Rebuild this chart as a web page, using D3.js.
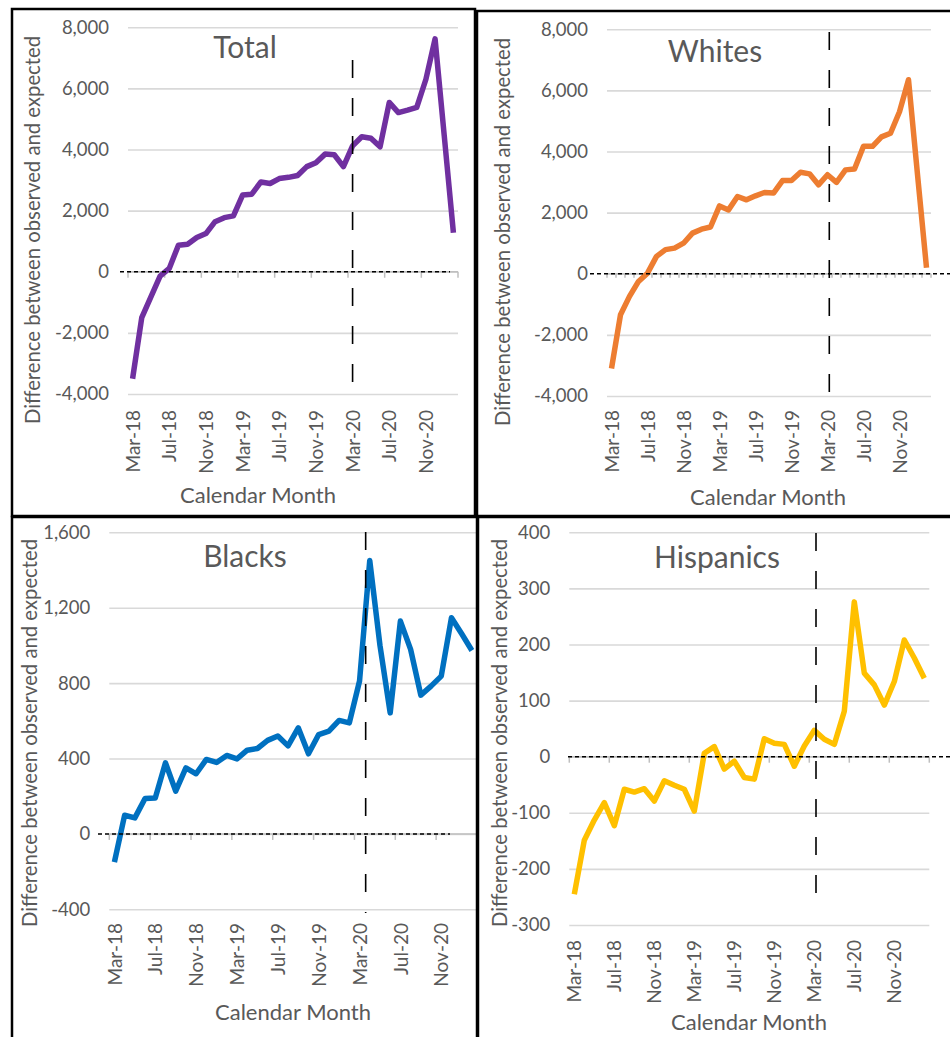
<!DOCTYPE html>
<html><head><meta charset="utf-8">
<script src="https://cdn.jsdelivr.net/npm/d3@7"></script>
<style>
body{margin:0;background:#fff}
text{font-family:Lato,"Open Sans",sans-serif}
</style>
</head><body>
<svg id="chart" width="950" height="1037"></svg>
<script>
// ---------- data ----------
const months = ["Mar-18","Apr-18","May-18","Jun-18","Jul-18","Aug-18","Sep-18","Oct-18","Nov-18","Dec-18","Jan-19","Feb-19",
  "Mar-19","Apr-19","May-19","Jun-19","Jul-19","Aug-19","Sep-19","Oct-19","Nov-19","Dec-19","Jan-20","Feb-20",
  "Mar-20","Apr-20","May-20","Jun-20","Jul-20","Aug-20","Sep-20","Oct-20","Nov-20","Dec-20","Jan-21","Feb-21"];
const tickLabels = ["Mar-18","Jul-18","Nov-18","Mar-19","Jul-19","Nov-19","Mar-20","Jul-20","Nov-20"];
const markerMonth = "Mar-20";

const total = [-3500,-1500,-820,-140,110,870,900,1120,1250,1640,1770,1830,
  2510,2540,2940,2890,3050,3090,3150,3440,3570,3850,3830,3440,
  4120,4420,4370,4090,5540,5210,5290,5380,6300,7620,4450,1280];
const whites = [-3100,-1340,-740,-250,20,570,790,840,1000,1330,1460,1530,
  2220,2090,2530,2420,2550,2660,2640,3050,3050,3320,3270,2910,
  3240,2990,3400,3430,4170,4170,4480,4600,5300,6350,3250,200];
const blacks = [-150,99,85,188,191,377,227,350,319,395,379,416,
  398,444,453,496,519,467,563,425,527,545,602,589,
  811,1450,1000,642,1129,979,736,784,837,1147,1062,973];
const hispanics = [-245,-149,-113,-82,-123,-58,-63,-57,-79,-43,-51,-58,
  -97,6,18,-22,-8,-37,-40,32,24,22,-17,19,
  47,31,22,81,276,149,128,92,134,208,176,140];

const totalTicks = [-4000,-2000,0,2000,4000,6000,8000];
const whitesTicks = [-4000,-2000,0,2000,4000,6000,8000];
const blacksTicks = [-400,0,400,800,1200,1600];
const hispanicsTicks = [-300,-200,-100,0,100,200,300,400];

const titles = ["Total","Whites","Blacks","Hispanics"];
const xTitle = "Calendar Month";
const yTitle = "Difference between observed and expected";

// ---------- layout ----------
const panels = [
  {title:titles[0], data:total, ticks:totalTicks, color:"#7030a0",
   box:[12,9,475,516], plot:{l:128,r:458,t:27.3,b:394}, zero:[120,450], vl:{y1:60,y2:393,off:0},
   tt:{x:245,y:58}, xl:410, cm:{x:258,y:503}, yt:{x:33,y:230}, minor:false},
  {title:titles[1], data:whites, ticks:whitesTicks, color:"#ed7d31",
   box:[477,11,960,516], plot:{l:607,r:931,t:29.3,b:396}, zero:[590,950], vl:{y1:32,y2:412,off:0.2},
   tt:{x:715,y:62}, xl:410, cm:{x:768,y:505}, yt:{x:503,y:232}, minor:true},
  {title:titles[2], data:blacks, ticks:blacksTicks, color:"#0070c0",
   box:[12,517,477,1050], plot:{l:109.3,r:477,t:532.3,b:909.3}, zero:[98,450], vl:{y1:532,y2:913,off:0.6},
   tt:{x:245,y:567}, xl:923, cm:{x:293,y:1020}, yt:{x:30,y:733}, minor:false},
  {title:titles[3], data:hispanics, ticks:hispanicsTicks, color:"#ffc000",
   box:[478,517,960,1050], plot:{l:569.3,r:929.3,t:532.3,b:925}, zero:[568,950], vl:{y1:533,y2:913,off:0.17},
   tt:{x:717,y:568}, xl:940, cm:{x:749,y:1030}, yt:{x:500,y:733}, minor:false}
];

const fmt = d3.formatLocale({decimal:".", thousands:",", grouping:[3], currency:["$",""], minus:"-"}).format(",");

const svg = d3.select("#chart");
svg.append("rect").attr("width",950).attr("height",1037).attr("fill","#fff");
const defs = svg.append("defs");
const textCol = "#595959";

panels.forEach((p,pi)=>{
  const [bx1,by1,bx2,by2] = p.box;
  defs.append("clipPath").attr("id","clip"+pi)
    .append("rect").attr("x",bx1).attr("y",by1).attr("width",bx2-bx1).attr("height",by2-by1);
  const g = svg.append("g").attr("clip-path",`url(#clip${pi})`);

  const x = d3.scalePoint().domain(months).range([p.plot.l,p.plot.r]).padding(0.5);
  const step = x.step();
  const ext = d3.extent(p.ticks);
  const y = d3.scaleLinear().domain(ext).range([p.plot.b,p.plot.t]);

  // gridlines
  const grid = g.append("g").attr("transform",`translate(${p.plot.l},0)`)
    .call(d3.axisLeft(y).tickValues(p.ticks).tickSize(-(p.plot.r-p.plot.l)).tickFormat(""));
  grid.select(".domain").remove();
  grid.selectAll("line").attr("stroke","#d9d9d9").attr("stroke-width",1.6);

  // y labels
  const ya = g.append("g").attr("transform",`translate(${p.plot.l},0)`)
    .call(d3.axisLeft(y).tickValues(p.ticks).tickSize(0).tickPadding(19).tickFormat(fmt));
  ya.select(".domain").remove();
  ya.selectAll("text").attr("fill",textCol).style("font-size","18.5px").style("font-family","Lato");

  // horizontal category axis at zero
  const y0 = y(0);
  g.append("line").attr("x1",p.plot.l).attr("x2",p.plot.r).attr("y1",y0).attr("y2",y0)
    .attr("stroke","#bfbfbf").attr("stroke-width",1.5);
  const tickPos = [];
  months.forEach((m,i)=>{ if(p.minor || i%4===0) tickPos.push(x(m)-step/2); });
  tickPos.push(x(months[months.length-1])+step/2);
  g.selectAll(".tk").data(tickPos).join("line")
    .attr("x1",d=>d).attr("x2",d=>d).attr("y1",y0).attr("y2",y0+(p.minor?4:6))
    .attr("stroke","#bfbfbf").attr("stroke-width",1.5);

  // x labels at bottom
  const xa = g.append("g").attr("transform",`translate(0,${p.xl})`)
    .call(d3.axisBottom(x).tickValues(tickLabels).tickSize(0));
  xa.select(".domain").remove();
  xa.selectAll("text").attr("transform","rotate(-90)").attr("x",0).attr("y",0).attr("dy","0.35em")
    .style("text-anchor","end").attr("fill",textCol).style("font-size","19px").style("font-family","Lato");

  // data line
  const line = d3.line().x((d,i)=>x(months[i])).y(d=>y(d));
  g.append("path").datum(p.data).attr("d",line).attr("fill","none")
    .attr("stroke",p.color).attr("stroke-width",5.5).attr("stroke-linejoin","round").attr("stroke-linecap","butt");

  // zero dashed line
  g.append("line").attr("x1",p.zero[0]).attr("x2",p.zero[1]).attr("y1",y0).attr("y2",y0)
    .attr("stroke","#000").attr("stroke-width",1.5).attr("stroke-dasharray","4,3");
  // vertical dashed marker
  const vx = x(markerMonth)+p.vl.off*step;
  g.append("line").attr("x1",vx).attr("x2",vx).attr("y1",p.vl.y1).attr("y2",p.vl.y2)
    .attr("stroke","#000").attr("stroke-width",1.6).attr("stroke-dasharray","18,20");

  // titles
  g.append("text").attr("x",p.tt.x).attr("y",p.tt.y).attr("text-anchor","middle")
    .attr("fill",textCol).style("font-size","30px").text(p.title);
  g.append("text").attr("x",p.cm.x).attr("y",p.cm.y).attr("text-anchor","middle")
    .attr("fill",textCol).style("font-size","22px").text(xTitle);
  g.append("text").attr("transform",`translate(${p.yt.x},${p.yt.y}) rotate(-90)`).attr("dy","0.35em")
    .attr("text-anchor","middle").attr("fill",textCol).style("font-size","20.3px").text(yTitle);

  // border
  svg.append("rect").attr("x",bx1).attr("y",by1).attr("width",bx2-bx1).attr("height",by2-by1)
    .attr("fill","none").attr("stroke","#000").attr("stroke-width",2.5);
});
</script>
</body></html>
